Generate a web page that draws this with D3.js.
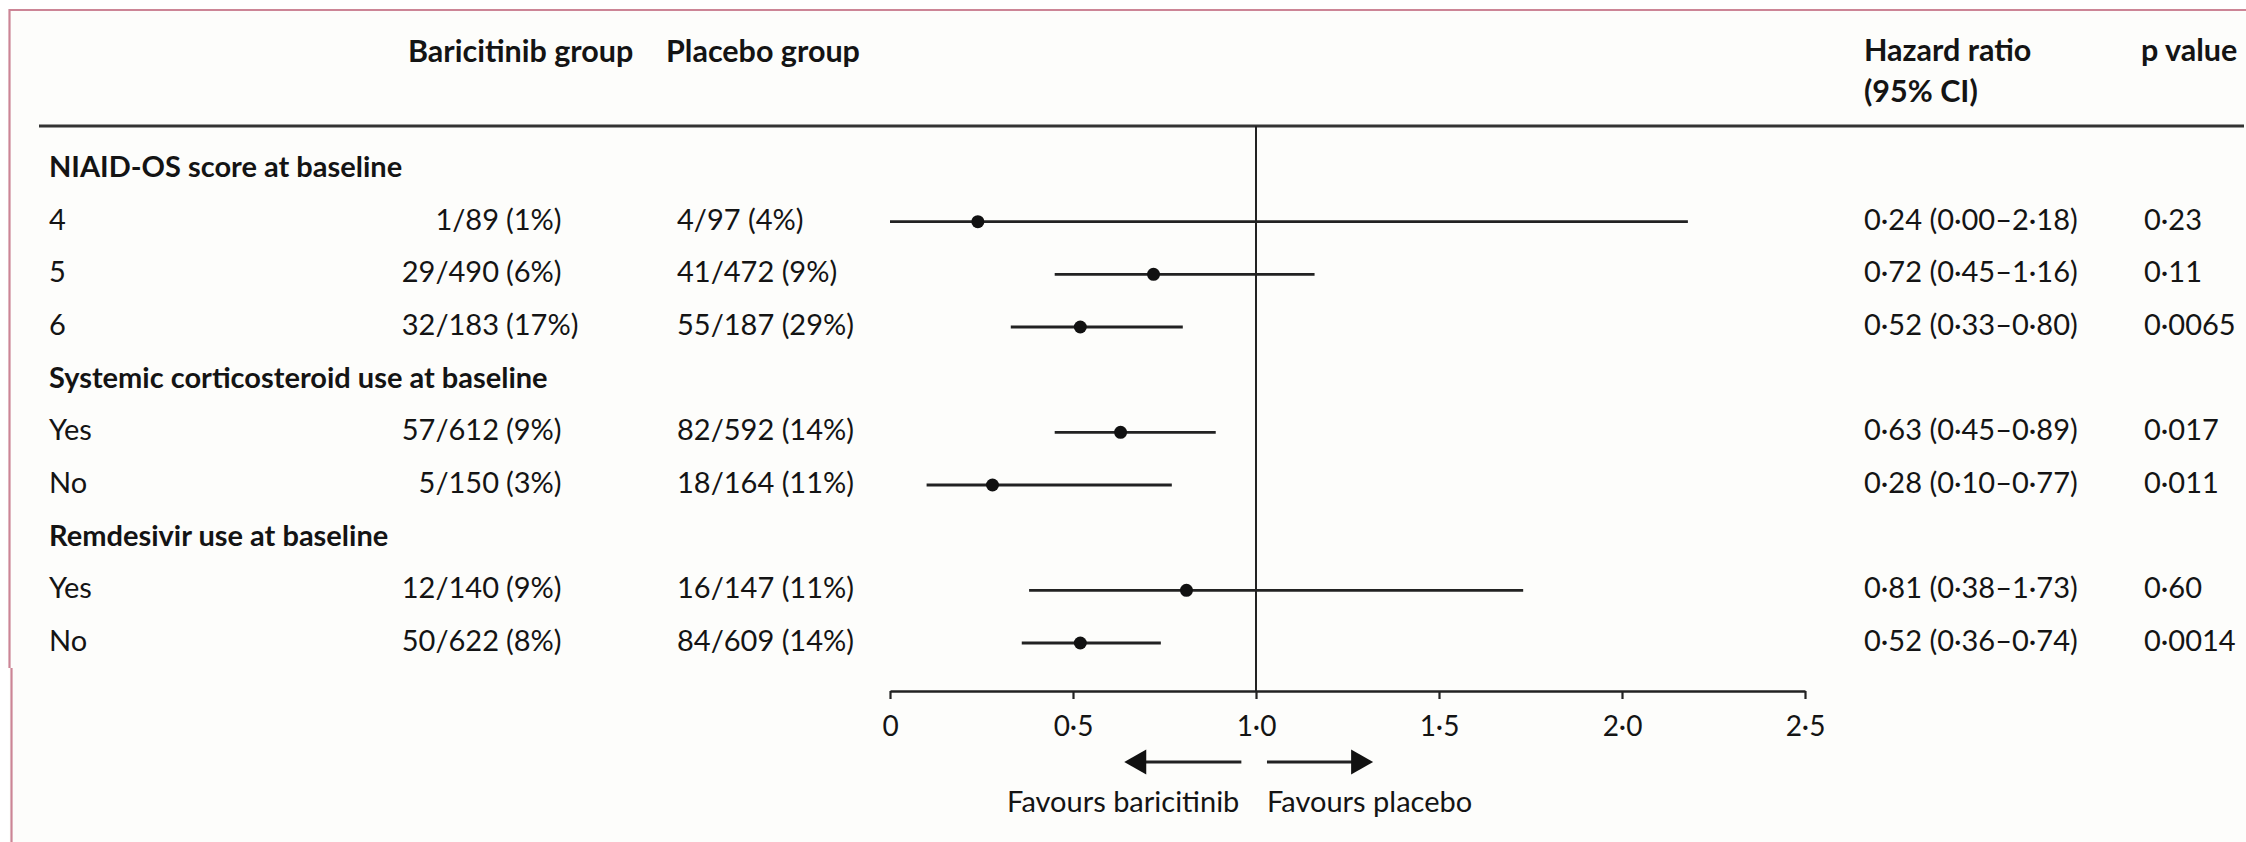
<!DOCTYPE html>
<html>
<head>
<meta charset="utf-8">
<script src="https://cdn.jsdelivr.net/npm/d3@7"></script>
<style>
  html, body { margin: 0; padding: 0; background: #ffffff; }
  svg { display: block; font-family: Lato, "Open Sans", sans-serif; }
</style>
</head>
<body>
<svg id="chart" width="2246" height="842"></svg>
<script>
// Subgroup rows (group headings have no estimate)
const rowLabels   = ["NIAID-OS score at baseline", "4", "5", "6",
                     "Systemic corticosteroid use at baseline", "Yes", "No",
                     "Remdesivir use at baseline", "Yes", "No"];
const isHeading   = [true, false, false, false, true, false, false, true, false, false];
const bariEvents  = ["", "1/89", "29/490", "32/183", "", "57/612", "5/150", "", "12/140", "50/622"];
const bariPct     = ["", "(1%)", "(6%)", "(17%)", "", "(9%)", "(3%)", "", "(9%)", "(8%)"];
const placeboText = ["", "4/97 (4%)", "41/472 (9%)", "55/187 (29%)", "", "82/592 (14%)", "18/164 (11%)", "", "16/147 (11%)", "84/609 (14%)"];
const hr          = [null, 0.24, 0.72, 0.52, null, 0.63, 0.28, null, 0.81, 0.52];
const ciLow       = [null, 0.00, 0.45, 0.33, null, 0.45, 0.10, null, 0.38, 0.36];
const ciHigh      = [null, 2.18, 1.16, 0.80, null, 0.89, 0.77, null, 1.73, 0.74];
const pValues     = ["", "0·23", "0·11", "0·0065", "", "0·017", "0·011", "", "0·60", "0·0014"];
const tickValues  = [0, 0.5, 1, 1.5, 2, 2.5];
const tickLabels  = ["0", "0·5", "1·0", "1·5", "2·0", "2·5"];

const fmt2 = v => v.toFixed(2).replace(".", "·");
const hrText = i => `${fmt2(hr[i])} (${fmt2(ciLow[i])}–${fmt2(ciHigh[i])})`;

const svg = d3.select("#chart");
const ink = "#141414";

// frame
svg.append("rect").attr("x", 9).attr("y", 9).attr("width", 2246).attr("height", 842)
  .attr("fill", "#fdfdfb").attr("stroke", "none");
svg.append("line").attr("x1", 9).attr("x2", 2246).attr("y1", 10).attr("y2", 10)
  .attr("stroke", "#cc8596").attr("stroke-width", 2.2);
svg.append("line").attr("x1", 9.5).attr("x2", 9.5).attr("y1", 9).attr("y2", 668)
  .attr("stroke", "#cc8596").attr("stroke-width", 2.2);
svg.append("line").attr("x1", 11.5).attr("x2", 11.5).attr("y1", 668).attr("y2", 842)
  .attr("stroke", "#cc8596").attr("stroke-width", 2.2);

// scales
const x = d3.scaleLinear().domain([0, 2.5]).range([890, 1805]);
const y = d3.scalePoint().domain(d3.range(rowLabels.length)).range([169, 643]);
const axisY = 691;
const fs = 29;

// column headers
const head = svg.append("g").attr("font-weight", 700).attr("font-size", 30.5).attr("fill", ink);
head.append("text").attr("x", 408).attr("y", 62).text("Baricitinib group");
head.append("text").attr("x", 666).attr("y", 62).text("Placebo group");
head.append("text").attr("x", 1864).attr("y", 61).text("Hazard ratio");
head.append("text").attr("x", 1864).attr("y", 102).text("(95% CI)");
head.append("text").attr("x", 2141).attr("y", 61).text("p value");

// header rule
svg.append("line").attr("x1", 39).attr("x2", 2244).attr("y1", 126).attr("y2", 126)
  .attr("stroke", "#333").attr("stroke-width", 3);

// reference line at HR = 1
svg.append("line").attr("x1", x(1)).attr("x2", x(1)).attr("y1", 126).attr("y2", axisY)
  .attr("stroke", "#222").attr("stroke-width", 2);

// table text
const rows = svg.append("g").attr("font-size", fs).attr("fill", ink);
rowLabels.forEach((lab, i) => {
  const ty = y(i) + 8;
  rows.append("text").attr("x", 49).attr("y", ty)
    .attr("font-weight", isHeading[i] ? 700 : 400).text(lab);
  if (isHeading[i]) return;
  rows.append("text").attr("x", 499).attr("y", ty).attr("text-anchor", "end").text(bariEvents[i]);
  rows.append("text").attr("x", 506).attr("y", ty).text(bariPct[i]);
  rows.append("text").attr("x", 677).attr("y", ty).text(placeboText[i]);
  rows.append("text").attr("x", 1864).attr("y", ty).text(hrText(i));
  rows.append("text").attr("x", 2144).attr("y", ty).text(pValues[i]);
});

// confidence intervals and point estimates
const est = d3.range(rowLabels.length).filter(i => hr[i] !== null);
svg.append("g").selectAll("line").data(est).join("line")
  .attr("x1", i => x(ciLow[i])).attr("x2", i => x(ciHigh[i]))
  .attr("y1", i => y(i)).attr("y2", i => y(i))
  .attr("stroke", "#222").attr("stroke-width", 2.8);
svg.append("g").selectAll("circle").data(est).join("circle")
  .attr("cx", i => x(hr[i])).attr("cy", i => y(i)).attr("r", 6.5)
  .attr("fill", "#111");

// x axis
const axis = d3.axisBottom(x).tickValues(tickValues)
  .tickFormat((d, k) => tickLabels[k]).tickSize(8).tickSizeOuter(0).tickPadding(17);
const gx = svg.append("g").attr("transform", `translate(0,${axisY})`).call(axis);
gx.select(".domain").attr("stroke", "#222").attr("stroke-width", 2.5);
gx.selectAll(".tick line").attr("stroke", "#222").attr("stroke-width", 2.2);
gx.selectAll(".tick text").attr("font-family", "Lato, sans-serif").attr("font-size", 28).attr("fill", ink);

// direction arrows
const arrowY = 762;
function arrow(from, to) {
  const x0 = x(from), x1 = x(to), dir = Math.sign(x1 - x0);
  svg.append("line").attr("x1", x0).attr("x2", x1 - dir * 18).attr("y1", arrowY).attr("y2", arrowY)
    .attr("stroke", "#222").attr("stroke-width", 3);
  svg.append("path")
    .attr("d", `M${x1},${arrowY} L${x1 - dir * 22},${arrowY - 12.5} L${x1 - dir * 22},${arrowY + 12.5} Z`)
    .attr("fill", "#111");
}
arrow(0.96, 0.64);
arrow(1.03, 1.32);

svg.append("text").attr("x", x(0.96) - 2).attr("y", 812).attr("text-anchor", "end")
  .attr("font-size", 29).attr("fill", ink).text("Favours baricitinib");
svg.append("text").attr("x", x(1.03)).attr("y", 812)
  .attr("font-size", 29).attr("fill", ink).text("Favours placebo");
</script>
</body>
</html>
